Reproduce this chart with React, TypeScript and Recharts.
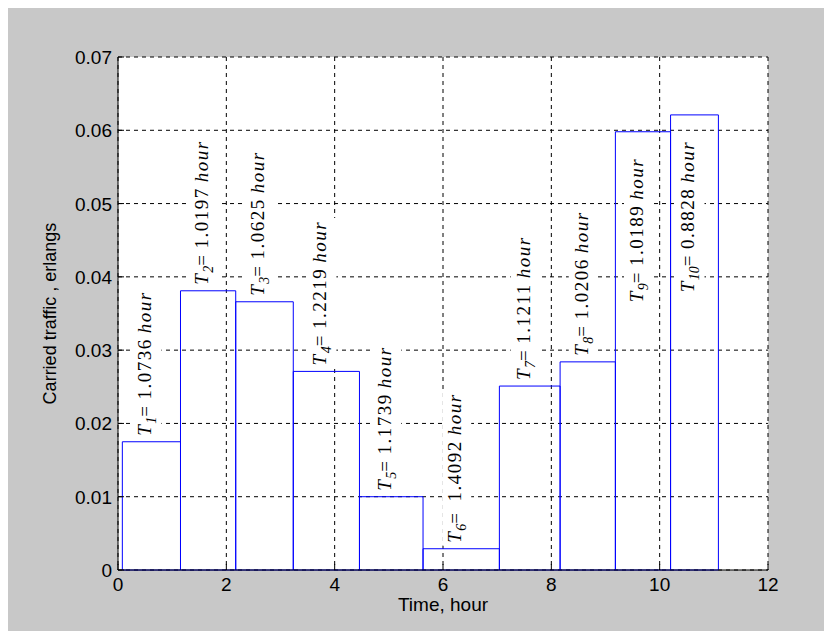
import { useLayoutEffect, useRef, useState } from 'react';
import { ComposedChart, CartesianGrid, ReferenceArea, XAxis, YAxis } from 'recharts';

// session start (hours) and per-interval durations T1..T10
const START_HOUR = 0.08;
const DURATIONS = [1.0736, 1.0197, 1.0625, 1.2219, 1.1739, 1.4092, 1.1211, 1.0206, 1.0189, 0.8828];
// carried traffic per interval, erlangs
const TRAFFIC = [0.0175, 0.0381, 0.0366, 0.0271, 0.01, 0.0029, 0.0251, 0.0284, 0.0598, 0.0621];

const X_TICKS = [0, 2, 4, 6, 8, 10, 12];
const Y_TICKS = [0, 0.01, 0.02, 0.03, 0.04, 0.05, 0.06, 0.07];
const Y_TICK_LABELS = ['0', '0.01', '0.02', '0.03', '0.04', '0.05', '0.06', '0.07'];

const TITLE = '06.09.2002 Channel 2';
const X_TITLE = 'Time, hour';
const Y_TITLE = 'Carried traffic , erlangs';

const SANS = '"Liberation Sans", Arial, sans-serif';
const SERIF = '"Liberation Serif", "Times New Roman", serif';
const BLUE = '#0000ff';
const TICK_LEN = 6;

const bars = DURATIONS.map((d, i) => {
  const x0 = START_HOUR + DURATIONS.slice(0, i).reduce((a, b) => a + b, 0);
  return { n: i + 1, x0, x1: x0 + d, y: TRAFFIC[i], d };
});

// last two labels don't fit above their bars, put them inside
const insideLabel = (i: number) => i >= 8;

function DurationLabel({ vb, i }: { vb: any; i: number }) {
  const ref = useRef<SVGTextElement>(null);
  const [box, setBox] = useState<{ x: number; y: number; w: number; h: number } | null>(null);
  useLayoutEffect(() => {
    if (ref.current) {
      const b = ref.current.getBBox();
      setBox({ x: b.x, y: b.y, w: b.width, h: b.height });
    }
  }, []);
  if (!vb) return null;
  const cx = vb.x + vb.width / 2;
  const inside = insideLabel(i);
  const ay = inside ? vb.y + 26 : vb.y - 6;
  const b = bars[i];
  return (
    <g transform={`translate(${cx},${ay}) rotate(-90)`}>
      {box && <rect x={box.x - 3} y={box.y - 2} width={box.w + 6} height={box.h + 4} fill="#fff" />}
      <text
        ref={ref}
        x={0}
        y={0}
        textAnchor={inside ? 'end' : 'start'}
        fontFamily={SERIF}
        fontSize={19}
        letterSpacing={1.5}
        fill="#000"
      >
        <tspan fontStyle="italic">T</tspan>
        <tspan fontSize={14} fontStyle="italic" dy={5} letterSpacing={0}>{b.n}</tspan>
        <tspan dy={-5}>=</tspan>
        <tspan dx={i === 5 ? 10 : 5}>{b.d.toFixed(4)}</tspan>
        <tspan dx={5} fontStyle="italic">hour</tspan>
      </text>
    </g>
  );
}

const BottomTick = (p: any) => (
  <g>
    <line x1={p.x} y1={p.y} x2={p.x} y2={p.y - TICK_LEN} stroke="#000" />
    <text x={p.x} y={p.y + 21} textAnchor="middle" fontFamily={SANS} fontSize={19} fill="#000">
      {p.payload.value}
    </text>
  </g>
);

const TopTick = (p: any) => <line x1={p.x} y1={p.y} x2={p.x} y2={p.y + TICK_LEN} stroke="#000" />;

const LeftTick = (p: any) => {
  const k = Y_TICKS.indexOf(p.payload.value);
  return (
    <g>
      <line x1={p.x} y1={p.y} x2={p.x + TICK_LEN} y2={p.y} stroke="#000" />
      <text x={p.x - 6} y={p.y + 7} textAnchor="end" fontFamily={SANS} fontSize={19} fill="#000">
        {Y_TICK_LABELS[k] ?? p.payload.value}
      </text>
    </g>
  );
};

const RightTick = (p: any) => <line x1={p.x - TICK_LEN} y1={p.y} x2={p.x} y2={p.y} stroke="#000" />;

export default function App() {
  return (
    <div style={{ width: 824, height: 623, background: '#c8c8c8' }}>
      <ComposedChart width={824} height={623} data={bars} margin={{ top: 49, right: 64, bottom: 0, left: 0 }}>
        <CartesianGrid stroke="#000" strokeDasharray="4 4" fill="#fff" fillOpacity={1} />
        <XAxis
          type="number"
          dataKey="x0"
          domain={[0, 12]}
          ticks={X_TICKS}
          interval={0}
          allowDataOverflow
          height={61}
          tickSize={0}
          tickMargin={0}
          axisLine={{ stroke: '#000' }}
          tickLine={false}
          tick={BottomTick}
          label={(p: any) => {
            const vb = p.viewBox ?? p;
            return (
              <text x={vb.x + vb.width / 2} y={vb.y + 41} textAnchor="middle" fontFamily={SANS} fontSize={19} fill="#000">
                {X_TITLE}
              </text>
            );
          }}
        />
        <XAxis
          xAxisId="top"
          orientation="top"
          type="number"
          dataKey="x0"
          domain={[0, 12]}
          ticks={X_TICKS}
          interval={0}
          allowDataOverflow
          height={0}
          tickSize={0}
          tickMargin={0}
          axisLine={{ stroke: '#000' }}
          tickLine={false}
          tick={TopTick}
          label={(p: any) => {
            const vb = p.viewBox ?? p;
            return (
              <text x={vb.x + vb.width / 2} y={vb.y - 43} textAnchor="middle" fontFamily={SANS} fontSize={19} fill="#000">
                {TITLE}
              </text>
            );
          }}
        />
        <YAxis
          type="number"
          dataKey="y"
          domain={[0, 0.07]}
          ticks={Y_TICKS}
          interval={0}
          allowDataOverflow
          width={110}
          tickSize={0}
          tickMargin={0}
          axisLine={{ stroke: '#000' }}
          tickLine={false}
          tick={LeftTick}
          label={(p: any) => {
            const vb = p.viewBox ?? p;
            const cy = vb.y + vb.height / 2;
            return (
              <text
                x={48}
                y={cy}
                transform={`rotate(-90, 48, ${cy})`}
                textAnchor="middle"
                fontFamily={SANS}
                fontSize={18}
                fill="#000"
              >
                {Y_TITLE}
              </text>
            );
          }}
        />
        <YAxis
          yAxisId="right"
          orientation="right"
          type="number"
          dataKey="y"
          domain={[0, 0.07]}
          ticks={Y_TICKS}
          interval={0}
          allowDataOverflow
          width={0}
          tickSize={0}
          tickMargin={0}
          axisLine={{ stroke: '#000' }}
          tickLine={false}
          tick={RightTick}
        />
        {bars.map((b, i) => (
          <ReferenceArea
            key={b.n}
            x1={b.x0}
            x2={b.x1}
            y1={0}
            y2={b.y}
            fill="none"
            fillOpacity={0}
            stroke={BLUE}
            strokeWidth={1}
            ifOverflow="visible"
            label={(p: any) => <DurationLabel vb={p.viewBox ?? p} i={i} />}
          />
        ))}
      </ComposedChart>
    </div>
  );
}
